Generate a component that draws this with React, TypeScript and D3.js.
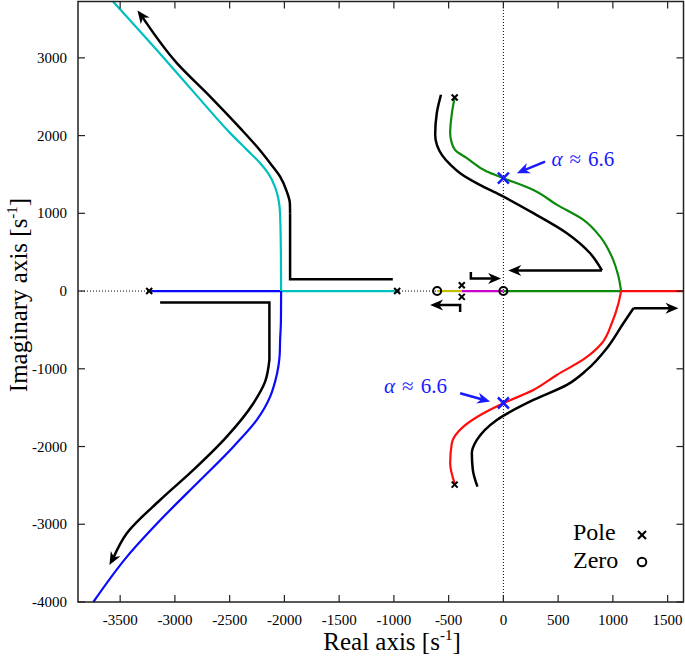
import React from 'react';
import * as d3 from 'd3';

// axis extents and ticks
const xDomain = [-3885, 1645];
const yDomain = [-4000, 3725];
const xTicks = [-3500, -3000, -2500, -2000, -1500, -1000, -500, 0, 500, 1000, 1500];
const yTicks = [-4000, -3000, -2000, -1000, 0, 1000, 2000, 3000];

// open-loop poles and zeros
const poles = [[-3235, 0], [-970, 0], [-380, 75], [-380, -75], [-445, 2490], [-445, -2490]];
const zeros = [[-605, 0], [0, 0]];
// imaginary-axis crossings (alpha ~ 6.6)
const crossings = [[0, 1452], [0, -1440]];

// root locus branches
const blueAxis = [[-3235, 0], [-2030, 0]];
const blueBranch = [[-2030, 0], [-2032, -400], [-2039, -630], [-2043, -820], [-2055, -970], [-2085, -1165],
  [-2130, -1358], [-2252, -1658], [-2466, -2002], [-2770, -2434], [-3135, -2949], [-3439, -3419], [-3745, -4000]];
const cyanAxis = [[-970, 0], [-2030, 0]];
const cyanBranch = [[-2030, 0], [-2032, 500], [-2040, 1004], [-2086, 1339], [-2150, 1519], [-2223, 1648],
  [-2342, 1816], [-2497, 2035], [-2798, 2511], [-3109, 3011], [-3565, 3725]];
const yellowAxis = [[-605, 0], [-380, 0]];
const magentaAxis = [[-380, 0], [0, 0]];
const greenAxis = [[0, 0], [1075, 0]];
const redAxis = [[1075, 0], [1645, 0]];
const greenBranch = [[-445, 2490], [-470, 2290], [-486, 2030], [-476, 1930], [-441, 1814], [-334, 1710],
  [-151, 1537], [0, 1452], [274, 1300], [490, 1109], [731, 916], [884, 700], [990, 443], [1051, 186], [1075, 0]];
const redBranch = [[-441, -2490], [-486, -2215], [-471, -1958], [-365, -1744], [-182, -1572], [0, -1443],
  [274, -1273], [488, -1080], [747, -864], [899, -671], [990, -414], [1051, -156], [1075, 0]];

// direction arrows: pieces of [points, smooth]
const arrows = [
  [[[[-1010, 153], [-1948, 153], [-1948, 1000]], false],
   [[[-1948, 1000], [-1950, 1130], [-1978, 1280], [-2039, 1473], [-2130, 1645], [-2252, 1859], [-2404, 2096],
     [-2678, 2502], [-2982, 2932], [-3342, 3609]], true]],
  [[[[-3135, -148], [-2137, -148], [-2137, -886]], false],
   [[[-2137, -886], [-2176, -1165], [-2283, -1443], [-2526, -1873], [-2831, -2301], [-3135, -2688],
     [-3439, -3116], [-3598, -3524]], true]],
  [[[[-570, 2525], [-608, 2290], [-623, 2010], [-605, 1870], [-562, 1752], [-480, 1620], [-395, 1517],
     [-220, 1370], [-30, 1237], [274, 1002], [580, 745], [790, 490], [900, 265]], true],
   [[[900, 265], [45, 265]], false]],
  [[[[-237, -2516], [-279, -2301], [-288, -2087], [-242, -1915], [-60, -1658], [274, -1401], [580, -1207],
     [762, -1014], [945, -735], [1096, -414], [1188, -221]], true],
   [[[1188, -221], [1599, -221]], false]],
  [[[[-297, 246], [-297, 163], [-21, 163]], false]],
  [[[[-395, -268], [-395, -178], [-669, -178]], false]],
];

// annotation arrows and labels
const noteArrows = [[[381, 1666], [123, 1517]], [[-395, -1314], [-121, -1422]]];
const noteLabels = [[440, 1610, 'start'], [-516, -1314, 'end']];

const x = d3.scaleLinear().domain(xDomain).range([78, 683.5]);
const y = d3.scaleLinear().domain(yDomain).range([602, 1.5]);
const px = (d) => [x(d[0]), y(d[1])];
const lineLin = d3.line();
const lineMono = d3.line().curve(d3.curveMonotoneY);
// smooth path through points that are monotone in y
const smoothPath = (p) => lineMono([...p].sort((a, b) => a[1] - b[1]));

const FONT = '"Liberation Serif", "Times New Roman", serif';
const C = {
  blue: '#0a0aff', cyan: '#00bfbf', green: '#0b8a0b', red: '#ff0d0d',
  magenta: '#cc00cc', yellow: '#bfbf00', note: '#1a1aff',
};

function head(tip, prev, color, L = 13, w = 5.5) {
  const a = Math.atan2(tip[1] - prev[1], tip[0] - prev[0]);
  const pts = [[0, 0], [-L, -w], [-L * 0.7, 0], [-L, w]].map(([u, v]) => [
    tip[0] + u * Math.cos(a) - v * Math.sin(a),
    tip[1] + u * Math.sin(a) + v * Math.cos(a),
  ]);
  return <polygon points={pts.map((p) => p.join(',')).join(' ')} fill={color} />;
}

function Arrow({ pieces, color = '#000', width = 2.5 }) {
  const out = [];
  pieces.forEach(([pts, smooth], i) => {
    let p = pts.map(px);
    const last = i === pieces.length - 1;
    let tip, prev;
    if (last) {
      tip = p[p.length - 1];
      prev = p[p.length - 2];
      const dx = tip[0] - prev[0], dy = tip[1] - prev[1];
      const len = Math.hypot(dx, dy);
      p = [...p.slice(0, -1), [tip[0] - (dx / len) * 8, tip[1] - (dy / len) * 8]];
    }
    out.push(<path key={i} d={smooth ? smoothPath(p) : lineLin(p)} fill="none" stroke={color} strokeWidth={width} />);
    if (last) out.push(<g key="h">{head(tip, prev, color)}</g>);
  });
  return <g>{out}</g>;
}

const Branch = ({ data, color, smooth = true }) => {
  const p = data.map(px);
  return <path d={smooth ? smoothPath(p) : lineLin(p)} fill="none" stroke={color} strokeWidth={2.2} />;
};

const Cross = ({ cx, cy, s, color, w }) => (
  <g stroke={color} strokeWidth={w}>
    <line x1={cx - s} y1={cy - s} x2={cx + s} y2={cy + s} />
    <line x1={cx - s} y1={cy + s} x2={cx + s} y2={cy - s} />
  </g>
);

const Sup = () => <tspan fontSize={15} dy={-10}>-1</tspan>;

export default function App() {
  const [x0, x1] = x.range();
  const [y0, y1] = y.range();
  return (
    <svg width={685} height={660} style={{ position: 'absolute', left: 0, top: 0, background: '#fff' }} fontFamily={FONT}>
      {/* zero lines */}
      <line x1={x0} x2={x1} y1={y(0)} y2={y(0)} stroke="#000" strokeWidth={1} strokeDasharray="1,2" />
      <line x1={x(0)} x2={x(0)} y1={y0} y2={y1} stroke="#000" strokeWidth={1} strokeDasharray="1,2" />

      {/* branches */}
      <Branch data={blueAxis} color={C.blue} smooth={false} />
      <Branch data={cyanAxis} color={C.cyan} smooth={false} />
      <Branch data={blueBranch} color={C.blue} />
      <Branch data={cyanBranch} color={C.cyan} />
      <Branch data={yellowAxis} color={C.yellow} smooth={false} />
      <Branch data={magentaAxis} color={C.magenta} smooth={false} />
      <Branch data={greenAxis} color={C.green} smooth={false} />
      <Branch data={redAxis} color={C.red} smooth={false} />
      <Branch data={greenBranch} color={C.green} />
      <Branch data={redBranch} color={C.red} />

      {/* direction arrows */}
      {arrows.map((a, i) => <Arrow key={i} pieces={a} />)}

      {/* poles and zeros */}
      {poles.map((d, i) => <Cross key={i} cx={x(d[0])} cy={y(d[1])} s={3} color="#000" w={2} />)}
      {zeros.map((d, i) => <circle key={i} cx={x(d[0])} cy={y(d[1])} r={4} fill="none" stroke="#000" strokeWidth={2} />)}
      {crossings.map((d, i) => <Cross key={i} cx={x(d[0])} cy={y(d[1])} s={5.5} color={C.note} w={2.5} />)}

      {/* annotations */}
      {noteArrows.map(([a, b], i) => {
        const p0 = px(a), p1 = px(b);
        const dx = p1[0] - p0[0], dy = p1[1] - p0[1];
        const len = Math.hypot(dx, dy);
        const cut = [p1[0] - (dx / len) * 8, p1[1] - (dy / len) * 8];
        return (
          <g key={i}>
            <path d={lineLin([p0, cut])} stroke={C.note} strokeWidth={2.5} fill="none" />
            {head(p1, p0, C.note)}
          </g>
        );
      })}
      {noteLabels.map(([lx, ly, anchor], i) => (
        <text key={i} x={x(lx)} y={y(ly)} fill={C.note} fontSize={21} textAnchor={anchor}>
          <tspan fontStyle="italic">α</tspan>
          <tspan dx={7}>≈</tspan>
          <tspan dx={7}>6.6</tspan>
        </text>
      ))}

      {/* legend */}
      <text x={573} y={540} fontSize={24}>Pole</text>
      <text x={573} y={568} fontSize={24}>Zero</text>
      <Cross cx={642} cy={535} s={4} color="#000" w={2.2} />
      <circle cx={642} cy={562} r={4.3} fill="none" stroke="#000" strokeWidth={2} />

      {/* frame and ticks */}
      <rect x={x0} y={y1} width={x1 - x0} height={y0 - y1} fill="none" stroke="#222" strokeWidth={1.5} />
      {xTicks.map((t) => (
        <g key={t}>
          <line x1={x(t)} x2={x(t)} y1={y0} y2={y0 - 7} stroke="#222" strokeWidth={1.2} />
          <line x1={x(t)} x2={x(t)} y1={y1} y2={y1 + 7} stroke="#222" strokeWidth={1.2} />
          <text x={x(t)} y={625} fontSize={15} textAnchor="middle">{String(t)}</text>
        </g>
      ))}
      {yTicks.map((t) => (
        <g key={t}>
          <line x1={x0} x2={x0 + 7} y1={y(t)} y2={y(t)} stroke="#222" strokeWidth={1.2} />
          <line x1={x1} x2={x1 - 7} y1={y(t)} y2={y(t)} stroke="#222" strokeWidth={1.2} />
          <text x={67} y={y(t) + 5} fontSize={15} textAnchor="end">{String(t)}</text>
        </g>
      ))}

      {/* axis titles */}
      <text x={392} y={650} fontSize={25} textAnchor="middle">Real axis [s<Sup /><tspan dy={10}>]</tspan></text>
      <text transform="translate(27,295) rotate(-90)" fontSize={25} textAnchor="middle">
        Imaginary axis [s<Sup /><tspan dy={10}>]</tspan>
      </text>
    </svg>
  );
}
